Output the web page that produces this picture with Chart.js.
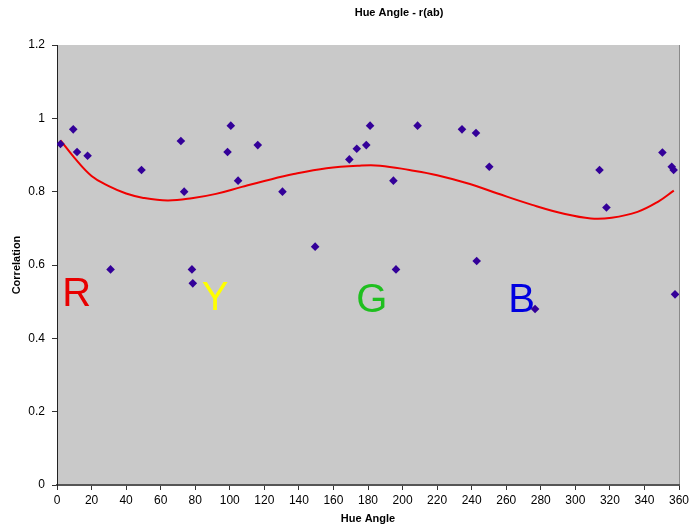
<!DOCTYPE html>
<html>
<head>
<meta charset="utf-8">
<title>Hue Angle - r(ab)</title>
<script src="https://cdn.jsdelivr.net/npm/chart.js@4.4.1/dist/chart.umd.min.js"></script>
<style>
  html, body { margin: 0; padding: 0; background: #fff; }
  canvas { display: block; }
</style>
</head>
<body>
<canvas id="hueChart" width="690" height="531"></canvas>
<script>
// measured hue angles and their correlation
const hueAngles = [2, 9.4, 11.6, 17.7, 31, 48.9, 71.7, 73.6, 78.1, 78.6, 98.7, 100.6, 104.8, 116.2,
    130.5, 149.4, 169.2, 173.5, 179, 181.2, 194.7, 196.2, 208.7, 234.4, 242.5, 242.9, 250.2,
    276.7, 314, 318, 350.4, 355.8, 356.9, 357.7];
const correlations = [0.93, 0.97, 0.908, 0.898, 0.588, 0.859, 0.938, 0.8, 0.588, 0.55, 0.908, 0.98, 0.83, 0.927,
    0.8, 0.65, 0.888, 0.917, 0.927, 0.98, 0.83, 0.588, 0.98, 0.97, 0.96, 0.611, 0.868,
    0.48, 0.859, 0.757, 0.907, 0.868, 0.859, 0.52];

// trend curve
const trendAngles = [2, 10, 20, 30, 40, 50, 64, 78, 92, 107, 120, 137, 156, 175, 187, 204, 220, 239,
    255, 275, 294, 309, 321, 336, 348, 357];
const trendValues = [0.94, 0.893, 0.843, 0.815, 0.795, 0.783, 0.776, 0.782, 0.794, 0.813, 0.829, 0.848,
    0.864, 0.871, 0.871, 0.859, 0.845, 0.821, 0.795, 0.764, 0.739, 0.727, 0.729, 0.745, 0.773, 0.803];

// hue region letters
const regionLetters = ['R', 'Y', 'G', 'B'];
const regionAngles = [11.4, 91.5, 182.2, 268.9];
const regionLevels = [0.488, 0.477, 0.472, 0.473];
const regionColors = ['#e80000', '#ffff00', '#1fbf1f', '#0000e0'];

const xTicks = [0, 360, 20];
const yTicks = [0, 1.2, 0.2];

const FONT = "'Liberation Sans', Arial, sans-serif";

const plotBackground = {
    id: 'plotBackground',
    beforeDraw(chart) {
        const { ctx, chartArea: a } = chart;
        ctx.save();
        ctx.fillStyle = '#c9c9c9';
        ctx.fillRect(a.left, a.top, a.right - a.left, a.bottom - a.top);
        ctx.strokeStyle = '#8a8a8a';
        ctx.lineWidth = 1;
        ctx.beginPath();
        ctx.moveTo(a.right + 0.5, a.top);
        ctx.lineTo(a.right + 0.5, a.bottom);
        ctx.stroke();
        ctx.restore();
    },
    beforeDatasetsDraw(chart) {
        const { ctx, scales } = chart;
        ctx.save();
        ctx.font = '40px ' + FONT;
        ctx.textAlign = 'center';
        ctx.textBaseline = 'alphabetic';
        regionLetters.forEach((ch, i) => {
            ctx.fillStyle = regionColors[i];
            ctx.fillText(ch, scales.x.getPixelForValue(regionAngles[i]), scales.y.getPixelForValue(regionLevels[i]));
        });
        ctx.restore();
    },
    afterDraw(chart) {
        // chart title sits a bit right of the plot centre
        const { ctx, chartArea: a } = chart;
        ctx.save();
        ctx.font = 'bold 11px ' + FONT;
        ctx.fillStyle = '#000';
        ctx.textAlign = 'center';
        ctx.textBaseline = 'middle';
        ctx.fillText('Hue Angle - r(ab)', (a.left + a.right) / 2 + 31, 13);
        ctx.restore();
    }
};

new Chart(document.getElementById('hueChart'), {
    data: {
        datasets: [{
            type: 'scatter',
            data: hueAngles.map((h, i) => ({ x: h, y: correlations[i] })),
            pointStyle: 'rectRot',
            pointRadius: 4.3,
            backgroundColor: '#330099',
            borderColor: '#330099',
            borderWidth: 0
        }, {
            type: 'line',
            data: trendAngles.map((h, i) => ({ x: h, y: trendValues[i] })),
            borderColor: '#f00000',
            borderWidth: 2,
            pointRadius: 0,
            tension: 0.4,
            fill: false
        }]
    },
    options: {
        responsive: false,
        animation: false,
        layout: { padding: { top: 45, right: 0, left: 0, bottom: 0 } },
        plugins: {
            legend: { display: false },
            title: { display: false },
            tooltip: { enabled: false }
        },
        scales: {
            x: {
                type: 'linear',
                min: xTicks[0],
                max: xTicks[1],
                afterFit: s => { s.height = 46; s.paddingRight = 11; },
                ticks: {
                    stepSize: xTicks[2],
                    color: '#000',
                    font: { family: FONT, size: 12 },
                    padding: 3,
                    maxRotation: 0
                },
                grid: { drawOnChartArea: false, drawTicks: true, tickLength: 5, color: '#333' },
                border: { display: true, color: '#555', width: 2 },
                title: {
                    display: true,
                    text: 'Hue Angle',
                    color: '#000',
                    font: { family: FONT, size: 11, weight: 'bold' },
                    padding: { top: 0, bottom: 5 }
                }
            },
            y: {
                type: 'linear',
                min: yTicks[0],
                max: yTicks[1],
                afterFit: s => { s.width = 57; },
                ticks: {
                    stepSize: yTicks[2],
                    color: '#000',
                    font: { family: FONT, size: 12 },
                    padding: 7,
                    callback: v => String(Math.round(v * 10) / 10)
                },
                grid: { drawOnChartArea: false, drawTicks: true, tickLength: 5, color: '#333' },
                border: { display: true, color: '#222', width: 1 },
                title: {
                    display: true,
                    text: 'Correlation',
                    color: '#000',
                    font: { family: FONT, size: 11, weight: 'bold' },
                    padding: { top: 10, bottom: 0 }
                }
            }
        }
    },
    plugins: [plotBackground]
});
</script>
</body>
</html>
